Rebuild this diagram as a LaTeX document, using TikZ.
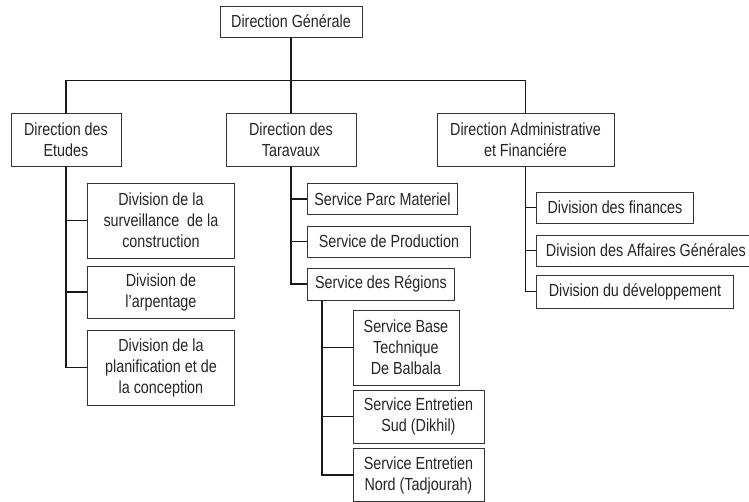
\documentclass[tikz,border=0pt]{standalone}
\usepackage{fontspec}
\setmainfont{Liberation Sans}[FakeStretch=0.82]
\usepackage{tikz}
\usetikzlibrary{positioning}
\tikzset{
  unit/.style={
    draw=black!80,
    line width=0.9pt,
    fill=white,
    text=black!85,
    align=center,
    inner xsep=6pt,
    inner ysep=4pt,
    font=\fontsize{17.5}{21}\selectfont
  },
  link/.style={
    line width=1.3pt,
    black!90
  }
}

\begin{document}
\begin{tikzpicture}
      \useasboundingbox (0,0) rectangle (749pt,-501pt);
      \node[unit, minimum width=142pt, minimum height=31pt] (DirGen) at (291pt,-21.5pt) {Direction Générale};
      \node[unit, on grid, below=118.5pt of DirGen, minimum width=130pt, minimum height=53pt] (DirTravaux)
      {Direction des\\Taravaux};
      \node[unit, on grid, left=225pt of DirTravaux, minimum width=110pt, minimum height=53pt] (DirEtudes)
      {Direction des\\Etudes};
      \node[unit, on grid, right=234.5pt of DirTravaux, minimum width=177pt, minimum height=53pt] (DirAdmin)
      {Direction Administrative\\et Financiére};
      \draw[link] (DirEtudes.north) -- ++(0,32.5pt) -| (DirAdmin.north);
      \draw[link] (DirGen.south) -- (DirTravaux.north);

      % etudes
      \node[unit, on grid, below right=80.5pt and 21pt of DirEtudes, anchor=west,
      minimum width=147pt, minimum height=75pt] (DivSurv) {Division de la\\surveillance\ \ de la\\construction};
      \node[unit, on grid, below=71.5pt of DivSurv.west, anchor=west,
      minimum width=147pt, minimum height=52pt] (DivArp) {Division de\\l'arpentage};
      \node[unit, on grid, below=75.5pt of DivArp.west, anchor=west,
      minimum width=147pt, minimum height=75pt] (DivPlan) {Division de la\\planification et de\\la conception};
      \draw[link] (DirEtudes.south) |- (DivSurv.west);
      \draw[link] (DirEtudes.south) |- (DivArp.west);
      \draw[link] (DirEtudes.south) |- (DivPlan.west);

      % travaux
      \node[unit, on grid, below right=59pt and 16pt of DirTravaux, anchor=west,
      minimum width=150pt, minimum height=31pt] (SerParc) {Service Parc Materiel};
      \node[unit, on grid, below=42.5pt of SerParc.west, anchor=west,
      minimum width=163pt, minimum height=31pt] (SerProd) {Service de Production};
      \node[unit, on grid, below=42.5pt of SerProd.west, anchor=west,
      minimum width=147pt, minimum height=32pt] (SerReg) {Service des Régions};
      \draw[link] (DirTravaux.south) |- (SerParc.west);
      \draw[link] (DirTravaux.south) |- (SerProd.west);
      \draw[link] (DirTravaux.south) |- (SerReg.west);

      \node[unit, on grid, below right=63.5pt and 45.5pt of SerReg.west, anchor=west,
      minimum width=106pt, minimum height=75pt] (SerBase) {Service Base\\Technique\\De Balbala};
      \node[unit, on grid, below=69pt of SerBase.west, anchor=west,
      minimum width=131pt, minimum height=53pt] (SerSud) {Service Entretien\\Sud (Dikhil)};
      \node[unit, on grid, below=58.5pt of SerSud.west, anchor=west,
      minimum width=131pt, minimum height=53pt] (SerNord) {Service Entretien\\Nord (Tadjourah)};
      \coordinate (RegFoot) at ([xshift=15pt]SerReg.south west);
      \draw[link] (RegFoot) |- (SerBase.west);
      \draw[link] (RegFoot) |- (SerSud.west);
      \draw[link] (RegFoot) |- (SerNord.west);

      % admin
      \node[unit, on grid, below right=67.5pt and 10.5pt of DirAdmin, anchor=west,
      minimum width=157pt, minimum height=31pt] (DivFin) {Division des finances};
      \node[unit, on grid, below=43pt of DivFin.west, anchor=west,
      minimum width=219pt, minimum height=31pt] (DivAff) {Division des Affaires Générales};
      \node[unit, on grid, below=41pt of DivAff.west, anchor=west,
      minimum width=197pt, minimum height=33pt] (DivDev) {Division du développement};
      \draw[link] (DirAdmin.south) |- (DivFin.west);
      \draw[link] (DirAdmin.south) |- (DivAff.west);
      \draw[link] (DirAdmin.south) |- (DivDev.west);
    \end{tikzpicture}
\end{document}
